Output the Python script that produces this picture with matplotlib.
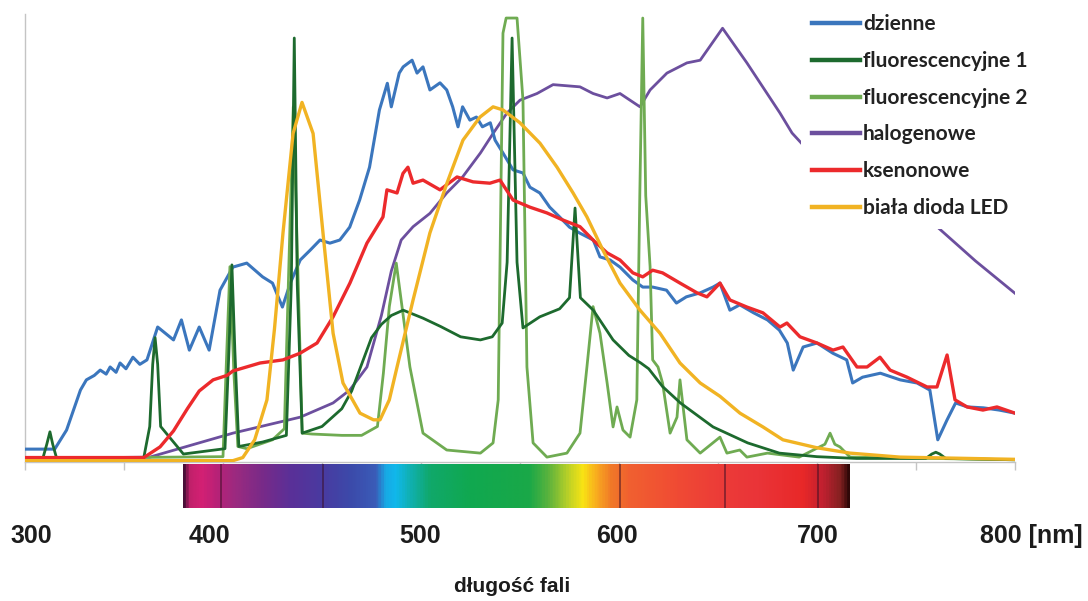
import matplotlib
matplotlib.use("Agg")
import matplotlib.pyplot as plt
import numpy as np
from matplotlib.colors import LinearSegmentedColormap

# ---- spectra (wavelength in nm, relative intensity) ----
dzienne_nm = [300, 315, 321, 328, 331, 335, 338, 341, 343, 346, 348, 351, 354.5, 358, 361.6, 367, 375, 379,
              383, 388, 393, 398.5, 405, 412, 420, 425, 430, 434, 439, 444, 449, 454, 459, 464, 469, 474,
              479, 483, 485, 489, 491, 495.5, 498, 501, 504.5, 509.6, 513, 516, 518.7, 521, 524.7, 528, 531,
              535, 537.4, 541.4, 546.5, 551.5, 555, 560, 565, 570, 575, 580, 587, 590.4, 595.5, 600.5, 607,
              612, 617, 624, 629, 634, 641, 647.5, 651, 656, 661, 668, 675, 681, 685, 688, 693, 700, 708,
              715, 718, 723, 732, 742, 750.5, 757, 761, 765.7, 770, 776, 784, 792, 800]
dzienne_val = [2.9, 2.9, 7.2, 16.2, 18.5, 19.5, 20.7, 19.8, 21.4, 20.2, 22.3, 21.0, 23.6, 22.0, 23.0, 30.4, 27.5, 32,
               25.2, 30.4, 25.2, 38.7, 43.9, 44.8, 41.7, 40.3, 34.9, 40.3, 45.5, 47.7, 50, 49.3, 50, 52.9, 59, 66.4,
               79.3, 85.3, 80, 87.6, 89, 90.5, 87.6, 89, 83.8, 85.4, 83.8, 80, 75.5, 80, 77, 77.7, 75.5,
               76.4, 72.5, 69.6, 65.8, 65.1, 61.9, 60.6, 57.4, 55.2, 52.9, 51.6, 50, 46.2, 45.5, 43.9, 41,
               39.4, 39.4, 38.7, 35.8, 37.2, 38.1, 39.4, 40.3, 34.2, 35.4, 33.6, 32, 29.7, 26.8, 20.7, 25.9, 26.8, 24.5,
               23, 17.8, 19.1, 20, 18.5, 17.8, 16.2, 5, 9.5, 13.3, 12.4, 12.2, 11.7, 11]

fluo1_nm = [300, 309, 311, 312.6, 314, 316, 360, 363, 364.5, 365.7, 367, 368.5, 380, 401, 403, 404.5, 406, 408,
            420, 432, 434.5, 436, 437.5, 440, 450, 460, 465, 470, 475, 480, 485, 491, 501, 510, 520, 530, 536,
            541, 543.5, 546, 548.5, 551.5, 560, 570, 575, 577.8, 580.5, 587, 597, 605, 611, 615, 622, 631,
            647.5, 665, 681, 700, 720, 755, 758, 760, 762, 765, 800]
fluo1_val = [0.8, 0.8, 4, 6.8, 4, 0.8, 1.0, 8, 22, 28, 22, 8, 1.8, 3, 25, 44.4, 25, 3.5,
             4.5, 6, 40, 95.5, 40, 6.5, 8, 12, 16, 22, 28, 31, 33, 34.2, 32.4, 30.5, 28.2, 27.5, 28.2,
             31.3, 45, 95.5, 45, 30.2, 32.7, 34.5, 37, 57.2, 37, 34.2, 27.5, 24, 22.3, 21, 17, 13.3,
             7.9, 4.3, 2, 1.2, 0.8, 0.8, 1.8, 2.2, 1.8, 0.8, 0.5]

fluo2_nm = [300, 400, 401.5, 403.5, 405.5, 407.5, 412, 425, 431, 433, 435.5, 438, 440, 445, 460, 470, 478, 481,
            484, 487.5, 491, 494.4, 501, 513, 530, 536.4, 539, 541.4, 543, 546, 548.5, 551.5, 553.5, 556.6,
            563.6, 573.7, 580.3, 583.8, 586.9, 590.4, 594, 597, 599, 602, 605.6, 609, 610.5, 612, 613.5,
            615.7, 617, 619.7, 622, 625.8, 629.3, 630.8, 634.3, 641, 651, 654.5, 661, 664.6, 675, 691, 704,
            706.6, 709, 711.6, 716.7, 800]
fluo2_val = [0.8, 1.2, 20, 44, 20, 3.5, 3, 5, 7.5, 40, 80, 40, 6.5, 6.3, 6.0, 6.0, 8, 20,
             35, 44.8, 33, 21.4, 6.5, 2.7, 2, 4.3, 14, 96.6, 100, 100, 100, 81.5, 21.4, 4.3,
             1.1, 2, 6.5, 21.4, 35, 29, 17.8, 7.9, 12.4, 7.2, 5.6, 14, 60, 100, 60,
             44, 23, 21.4, 17.8, 6.5, 10.1, 18.5, 5, 2, 5.6, 2, 2.7, 1.1, 2, 1.1, 4,
             6.5, 4, 3.4, 1.1, 0.5]

halogen_nm = [300, 363, 405, 439, 455.6, 464, 472.7, 480, 485, 490, 496, 504.5, 513, 521, 530, 536.4, 543.4,
              550, 558.6, 566.7, 580.3, 586.9, 594, 600.5, 610.6, 615.7, 624.2, 634.3, 641, 652.3, 664.6,
              681.3, 687.4, 700, 720, 740, 760.6, 780, 800]
halogen_val = [0.8, 1.1, 6.5, 10.1, 13.3, 16.2, 21.4, 33, 43, 50, 53, 56, 60.6, 64.2, 69.6, 74, 78.6,
               81.5, 83, 85, 84.5, 83, 82, 83, 80, 83.8, 87.6, 89.9, 90.5, 97.7, 89.9,
               78.6, 74.1, 68, 63, 58, 53, 45.3, 38]

xenon_nm = [300, 360, 368.2, 375, 382, 388, 395, 402, 405, 418.7, 430.3, 438.9, 447.5, 455.6, 464.1, 472.7,
            477.8, 480.8, 482.8, 487.9, 490.9, 493.4, 496, 501, 509.6, 518.2, 526.3, 534.8, 539.9, 546.5,
            555, 563.6, 571.7, 580.3, 586.9, 594, 600.5, 607, 612, 617, 622, 630.8, 639.4, 644.4, 651, 656,
            664.6, 672.7, 681.3, 684.8, 691.4, 700, 708.1, 713.1, 720.2, 725.3, 731.8, 736.9, 745.5, 755.6,
            760.6, 765.7, 769.7, 775.8, 783.8, 790.9, 800]
xenon_val = [1, 1, 3.4, 7, 12, 16, 18.5, 19.5, 20.5, 22.3, 23, 24.5, 26.8, 32.7, 40.3, 49.3,
             53, 55.2, 61.3, 60.6, 65, 66.4, 62.8, 63.5, 61.3, 64.2, 63.1, 62.8, 63.5, 59,
             57.4, 56.1, 54.5, 53, 50, 47.1, 45.5, 42.6, 41.7, 43.2, 42.6, 40.3, 38.1, 37.2, 40.3, 36.5,
             34.9, 33.6, 30.4, 31.3, 28.2, 26.8, 25.2, 25.9, 21.4, 21.4, 23.6, 20.7, 19.1, 16.9,
             16.9, 24.1, 14, 12.4, 11.7, 12.4, 11]

led_nm = [300, 405, 410, 416, 422.2, 426, 430.3, 435.4, 439.9, 445.5, 450.5, 455.6, 460.6, 469.2, 476, 479.3,
          484, 487.9, 496, 504.5, 513.1, 521.2, 529.8, 536.4, 541.4, 550, 560.1, 568.7, 576.8, 583.8, 591.9,
          600.5, 610.6, 620.7, 630.8, 641, 651, 661.1, 672.7, 682.8, 700, 716.7, 742, 800]
led_val = [0.3, 0.3, 1.0, 5, 14, 30, 51.6, 74, 81, 74, 51.6, 29, 17.8, 11, 9.5, 9.5,
           14, 21.4, 36.5, 51.6, 62.8, 72.5, 77.7, 80, 79.3, 76.4, 71.8, 66.4, 60.6, 55.2, 47.7,
           40.3, 34.2, 29, 22.3, 17.8, 14.8, 11, 7.9, 5, 3.2, 2, 1.1, 0.6]

series_labels = ["dzienne", "fluorescencyjne 1", "fluorescencyjne 2", "halogenowe", "ksenonowe",
                 "biała dioda LED"]
tick_texts = ["300", "400", "500", "600", "700", "800 [nm]"]
axis_title = "długość fali"

# colour stops of the visible-spectrum strip (nm, colour)
strip_nm = [379.8, 382.3, 388.4, 396, 406, 418.7, 433.8, 449, 464.1, 476.8, 481.8, 486.9, 494.4, 504.5,
            524.7, 555, 565.2, 574.2, 581.8, 589.4, 596.5, 605.6, 630.8, 651, 671.2, 693.9, 704, 713.1, 716.7]
strip_col = ["#4a1038", "#c0206a", "#d42074", "#b82277", "#9a2a80", "#7a2a88", "#5a3098", "#4a3aa0",
             "#3c4aaa", "#3a5cb8", "#18a8e4", "#10b8ec", "#10b0b0", "#10a86a", "#10a850", "#1aa848",
             "#60b43c", "#b8d028", "#f8e414", "#f8a820", "#f07828", "#f06030", "#f04a34", "#ec3c38",
             "#ea3438", "#e82828", "#c02030", "#802020", "#300808"]
strip_marks = [399, 450.5, 600.5, 653.5, 700.5]

W, H = 1088, 601
fig = plt.figure(figsize=(W / 100, H / 100), dpi=100)
fig.patch.set_facecolor("white")

def fx(px):
    return px / W

def fy(py):
    return (H - py) / H

ax = fig.add_axes([fx(25), fy(462), fx(1015) - fx(25), fy(13.6) - fy(462)])
ax.set_xlim(300, 800)
ax.set_ylim(0, 101)

styles = [
    (dzienne_nm, dzienne_val, "#3b76bd", 2.2, 3),
    (fluo1_nm, fluo1_val, "#1d6a2e", 2.0, 5),
    (fluo2_nm, fluo2_val, "#6fab52", 2.0, 4),
    (halogen_nm, halogen_val, "#6c4f9e", 2.0, 2),
    (xenon_nm, xenon_val, "#ec2a2c", 2.4, 6),
    (led_nm, led_val, "#f1b323", 2.4, 7),
]
handles = []
for (xs, ys, col, lw, z), lab in zip(styles, series_labels):
    h, = ax.plot(xs, ys, color=col, lw=lw, zorder=z, label=lab, solid_joinstyle="round")
    handles.append(h)

for side in ("top", "right"):
    ax.spines[side].set_visible(False)
for side in ("left", "bottom"):
    ax.spines[side].set_color("#c4c4c4")
    ax.spines[side].set_linewidth(1.0)
ax.set_yticks([])
ax.set_xticks(np.arange(300, 801, 50))
ax.tick_params(axis="x", length=6, width=1, color="#c4c4c4", labelbottom=False)

leg = ax.legend(handles=handles, loc="upper left", bbox_to_anchor=(fx(800.5), fy(3)),
                bbox_transform=fig.transFigure, frameon=True, fancybox=False,
                framealpha=1.0, facecolor="white", edgecolor="none",
                handlelength=2.3, handletextpad=0.15, labelspacing=0.8, borderpad=0.55,
                borderaxespad=0.0,
                prop={"family": "Lato", "weight": "bold", "size": 15})
leg.set_zorder(20)
for t in leg.get_texts():
    t.set_color("#222222")
for lh in leg.legend_handles:
    lh.set_linewidth(3.2)

# visible-spectrum strip
sax = fig.add_axes([fx(183), fy(508), fx(850) - fx(183), fy(464) - fy(508)])
pos = [(v - strip_nm[0]) / (strip_nm[-1] - strip_nm[0]) for v in strip_nm]
cmap = LinearSegmentedColormap.from_list("strip", list(zip(pos, strip_col)))
grad = np.linspace(strip_nm[0], strip_nm[-1], 700)[None, :]
sax.imshow(grad, aspect="auto", cmap=cmap, extent=[strip_nm[0], strip_nm[-1], 0, 1],
           vmin=strip_nm[0], vmax=strip_nm[-1], interpolation="bilinear")
for m in strip_marks:
    sax.axvline(m, color="#3a0f25", lw=1.1, alpha=0.65)
sax.set_xlim(strip_nm[0], strip_nm[-1])
sax.set_ylim(0, 1)
sax.axis("off")

# wavelength labels
label_x = [31, 209, 420, 617, 818]
for t, x in zip(tick_texts[:-1], label_x):
    fig.text(fx(x), fy(536), t, ha="center", va="center", family="Liberation Sans",
             weight="bold", size=18, color="#1c1c1c")
fig.text(fx(980), fy(536), tick_texts[-1], ha="left", va="center", family="Liberation Sans",
         weight="bold", size=18, color="#1c1c1c")
fig.text(fx(512), fy(587), axis_title, ha="center", va="center", family="Liberation Sans",
         weight="bold", size=15, color="#1c1c1c")

fig.savefig("out.png", dpi=100, facecolor="white")
